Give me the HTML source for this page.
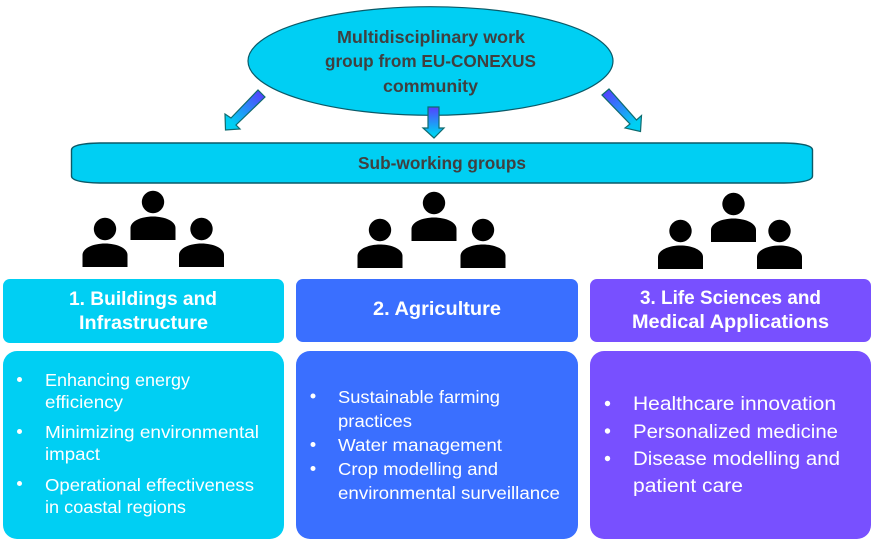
<!DOCTYPE html>
<html><head><meta charset="utf-8"><style>
html,body{margin:0;padding:0;background:#fff}
svg{display:block}
text{font-family:"Liberation Sans",sans-serif}
.d{font-size:17.5px;font-weight:700;fill:#404040}
.h{font-size:19.5px;font-weight:700;fill:#fff}
.a{font-size:17.5px;fill:#fff}
.b{font-size:19px;fill:#fff}
</style></head><body>
<svg width="874" height="544" viewBox="0 0 874 544" xmlns="http://www.w3.org/2000/svg">
<defs>
<linearGradient id="gl" gradientUnits="userSpaceOnUse" x1="262" y1="93" x2="232" y2="123"><stop offset="0" stop-color="#5540ff"/><stop offset="1" stop-color="#00cff3"/></linearGradient>
<linearGradient id="gm" gradientUnits="userSpaceOnUse" x1="434" y1="107" x2="434" y2="134"><stop offset="0" stop-color="#5540ff"/><stop offset="1" stop-color="#00cff3"/></linearGradient>
<linearGradient id="gr" gradientUnits="userSpaceOnUse" x1="605" y1="92" x2="634" y2="124"><stop offset="0" stop-color="#5540ff"/><stop offset="1" stop-color="#00cff3"/></linearGradient>
<g id="p"><circle cx="22.5" cy="-27" r="11.2"/><path d="M0 11V-1C0 -8 11 -12.500 22.5 -12.500S45 -8 45 -1V11Z"/></g>
</defs>

<ellipse cx="430.5" cy="61" rx="182.5" ry="54.3" fill="#00cff3" stroke="#0b5a68" stroke-width="1.2"/>
<text class="d" x="337" y="43" textLength="188" lengthAdjust="spacingAndGlyphs">Multidisciplinary work</text>
<text class="d" x="325" y="67" textLength="211" lengthAdjust="spacingAndGlyphs">group from EU-CONEXUS</text>
<text class="d" x="383" y="92" textLength="95" lengthAdjust="spacingAndGlyphs">community</text>

<polygon points="265,97 258,90 231,118 225,114 225.500,130 240,129 236,125" fill="url(#gl)" stroke="#0f6b6e" stroke-width="1.2"/>
<polygon points="428,107 439,107 439,128 444,128 434,138 423,128 428,128" fill="url(#gm)" stroke="#0f6b6e" stroke-width="1.2"/>
<polygon points="602,95 609,89 636.500,120 641.500,115.500 640.500,131.500 625,128 630,124" fill="url(#gr)" stroke="#0f6b6e" stroke-width="1.2"/>

<path d="M71.500 150Q71.500 143.500 100 143H784Q812.500 143.500 812.500 150V176Q812.500 182.500 784 183H100Q71.500 182.500 71.500 176Z" fill="#00cff3" stroke="#0b5a68" stroke-width="1.4"/>
<text class="d" x="358" y="169" textLength="168" lengthAdjust="spacingAndGlyphs">Sub-working groups</text>

<use href="#p" x="82.500" y="256"/>
<use href="#p" x="130.500" y="229"/>
<use href="#p" x="179" y="256"/>
<use href="#p" x="357.500" y="257"/>
<use href="#p" x="411.500" y="230"/>
<use href="#p" x="460.500" y="257"/>
<use href="#p" x="658" y="258"/>
<use href="#p" x="711" y="231"/>
<use href="#p" x="757" y="258"/>

<rect x="3" y="279" width="281" height="64" rx="7" fill="#00cff3"/>
<rect x="296" y="279" width="282" height="63" rx="7" fill="#3a6fff"/>
<rect x="590" y="279" width="281" height="63" rx="7" fill="#7850ff"/>
<rect x="3" y="351" width="281" height="188" rx="14" fill="#00cff3"/>
<rect x="296" y="351" width="282" height="188" rx="14" fill="#3a6fff"/>
<rect x="590" y="351" width="281" height="188" rx="14" fill="#7850ff"/>

<text class="h" x="69" y="305" textLength="148" lengthAdjust="spacingAndGlyphs">1. Buildings and</text>
<text class="h" x="79" y="329" textLength="129" lengthAdjust="spacingAndGlyphs">Infrastructure</text>
<text class="h" x="373" y="315" textLength="128" lengthAdjust="spacingAndGlyphs">2. Agriculture</text>
<text class="h" x="640" y="304" textLength="181" lengthAdjust="spacingAndGlyphs">3. Life Sciences and</text>
<text class="h" x="632" y="328" textLength="197" lengthAdjust="spacingAndGlyphs">Medical Applications</text>

<g fill="#fff">
<circle cx="19.500" cy="379.500" r="2.500"/><circle cx="19.500" cy="431.500" r="2.500"/><circle cx="19.500" cy="483.500" r="2.500"/>
<circle cx="313" cy="396" r="2.500"/><circle cx="313" cy="444.500" r="2.500"/><circle cx="313" cy="468.500" r="2.500"/>
<circle cx="607.500" cy="403.500" r="2.700"/><circle cx="607.500" cy="431" r="2.700"/><circle cx="607.500" cy="458.500" r="2.700"/>
</g>

<text class="a" x="45" y="386" textLength="145" lengthAdjust="spacingAndGlyphs">Enhancing energy</text>
<text class="a" x="45" y="408" textLength="78" lengthAdjust="spacingAndGlyphs">efficiency</text>
<text class="a" x="45" y="438" textLength="214" lengthAdjust="spacingAndGlyphs">Minimizing environmental</text>
<text class="a" x="45" y="460" textLength="55" lengthAdjust="spacingAndGlyphs">impact</text>
<text class="a" x="45" y="491" textLength="209" lengthAdjust="spacingAndGlyphs">Operational effectiveness</text>
<text class="a" x="45" y="513" textLength="141" lengthAdjust="spacingAndGlyphs">in coastal regions</text>

<text class="a" x="338" y="403" textLength="162" lengthAdjust="spacingAndGlyphs">Sustainable farming</text>
<text class="a" x="338" y="427" textLength="74" lengthAdjust="spacingAndGlyphs">practices</text>
<text class="a" x="338" y="451" textLength="164" lengthAdjust="spacingAndGlyphs">Water management</text>
<text class="a" x="338" y="475" textLength="160" lengthAdjust="spacingAndGlyphs">Crop modelling and</text>
<text class="a" x="338" y="499" textLength="222" lengthAdjust="spacingAndGlyphs">environmental surveillance</text>

<text class="b" x="633" y="410" textLength="203" lengthAdjust="spacingAndGlyphs">Healthcare innovation</text>
<text class="b" x="633" y="438" textLength="205" lengthAdjust="spacingAndGlyphs">Personalized medicine</text>
<text class="b" x="633" y="465" textLength="207" lengthAdjust="spacingAndGlyphs">Disease modelling and</text>
<text class="b" x="633" y="492" textLength="110" lengthAdjust="spacingAndGlyphs">patient care</text>
</svg>
</body></html>
